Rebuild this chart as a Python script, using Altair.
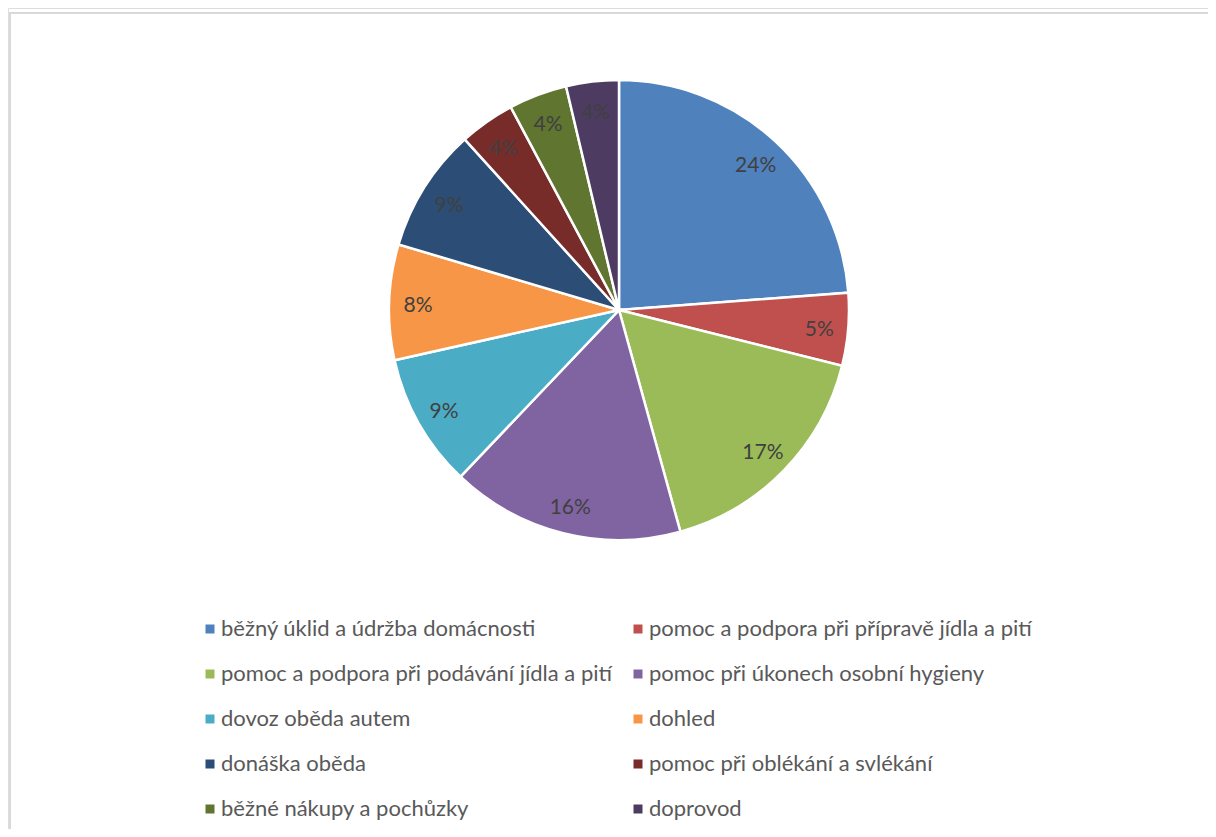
import altair as alt
import pandas as pd

categories = [
    "běžný úklid a údržba domácnosti",
    "pomoc a podpora při přípravě jídla a pití",
    "pomoc a podpora při podávání jídla a pití",
    "pomoc při úkonech osobní hygieny",
    "dovoz oběda autem",
    "dohled",
    "donáška oběda",
    "pomoc při oblékání a svlékání",
    "běžné nákupy a pochůzky",
    "doprovod",
]
values = [23.8, 5.1, 16.8, 16.4, 9.4, 8.1, 8.7, 3.9, 4.1, 3.7]
colors = ["#4F81BD", "#C0504D", "#9BBB59", "#8064A2", "#4BACC6",
          "#F79646", "#2C4D75", "#772C2A", "#5F7530", "#4D3B62"]

total = sum(values)
df = pd.DataFrame({
    "cat": categories,
    "value": values,
    "idx": list(range(len(categories))),
    "label": [f"{round(v / total * 100)}%" for v in values],
})

# legend fills column by column: reorder so that it reads row by row
legend_order = categories[0::2] + categories[1::2]
legend_colors = colors[0::2] + colors[1::2]

FONT = "Lato"
W, H = 1200, 821
CX, CY = 611, 302
R = 230

color = alt.Color(
    "cat:N",
    sort=legend_order,
    scale=alt.Scale(domain=legend_order, range=legend_colors),
    legend=alt.Legend(
        title=None,
        orient="none",
        legendX=189,
        legendY=610,
        columns=2,
        symbolType="square",
        symbolSize=81,
        symbolStrokeWidth=0,
        symbolOffset=2,
        labelFont=FONT,
        labelFontSize=22,
        labelColor="#595959",
        labelLimit=600,
        labelOffset=0,
        rowPadding=23,
        columnPadding=12,
        padding=0,
    ),
)

base = alt.Chart(df).encode(
    theta=alt.Theta("value:Q", stack=True),
    order=alt.Order("idx:Q"),
)

pie = base.mark_arc(radius=R, stroke="white", strokeWidth=2.5).encode(
    color=color,
    x=alt.value(CX),
    y=alt.value(CY),
)

labels = base.mark_text(radius=201, dy=3, font=FONT, fontSize=21, color="#404040").encode(
    text="label:N",
    x=alt.value(CX),
    y=alt.value(CY),
)

frame = pd.DataFrame({"a": [0]})
top_rule = alt.Chart(frame).mark_rule(stroke="#D9D9D9", strokeWidth=2).encode(
    x=alt.value(1), x2=alt.value(W + 40), y=alt.value(5),
)
left_rule = alt.Chart(frame).mark_rule(stroke="#D9D9D9", strokeWidth=2).encode(
    x=alt.value(2), y=alt.value(4), y2=alt.value(H + 40),
)

chart = alt.layer(top_rule, left_rule, pie, labels).properties(
    width=W, height=H,
    autosize=alt.AutoSizeParams(type="none"),
    padding=0,
).configure_view(stroke="transparent", strokeWidth=0).configure(background="white")

chart.save("out.html", embed_options={"renderer": "svg", "actions": False})
